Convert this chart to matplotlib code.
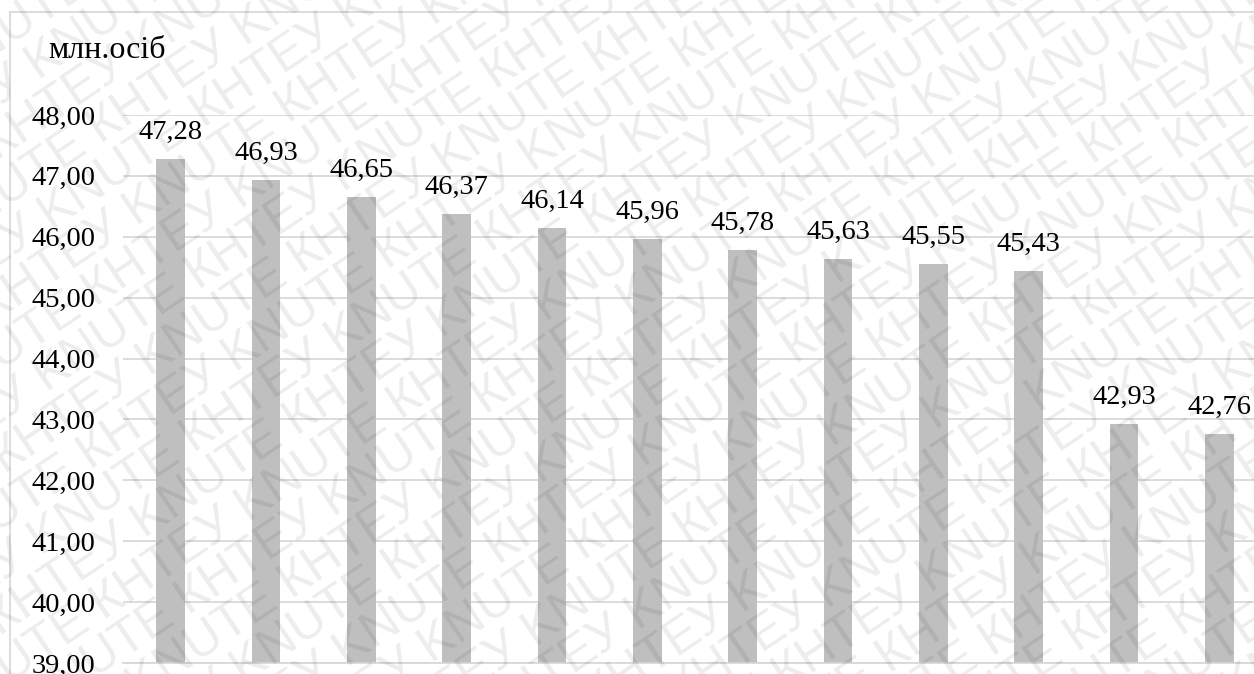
import numpy as np
import matplotlib
matplotlib.use("Agg")
import matplotlib.pyplot as plt
from matplotlib.lines import Line2D

# population, mln persons
values = [47.28, 46.93, 46.65, 46.37, 46.14, 45.96, 45.78, 45.63, 45.55, 45.43, 42.93, 42.76]
y_ticks = [39, 40, 41, 42, 43, 44, 45, 46, 47, 48]
unit_label = "млн.осіб"
mark_words = "KNUTE КНТЕУ "

W, H = 1254, 674
plt.rcParams["font.family"] = ["Liberation Serif", "DejaVu Serif"]

fig = plt.figure(figsize=(W / 100, H / 100), dpi=100)
fig.patch.set_facecolor("white")

# plot area (pixels): x 123..1267 (right part runs off the page), y 115..663
ax = fig.add_axes([123 / W, 11 / H, (1267 - 123) / W, 548 / H])
x = np.arange(len(values))
ax.bar(x, values, width=0.30, color="#bfbfbf", zorder=2)
ax.set_xlim(-0.5, len(values) - 0.5)
ax.set_ylim(39, 48)
ax.set_yticks(y_ticks)
ax.set_yticklabels([f"{t:.2f}".replace(".", ",") for t in y_ticks])
ax.set_xticks([])
ax.tick_params(axis="y", length=0, pad=20, labelsize=20.5, labelcolor="black")
ax.grid(axis="y", color="#d6d6d6", linewidth=1.2, zorder=0)
for side in ["top", "right", "left"]:
    ax.spines[side].set_visible(False)
ax.spines["bottom"].set_color("#d6d6d6")
ax.spines["bottom"].set_linewidth(1.2)
ax.patch.set_alpha(0)

for xi, v in zip(x, values):
    ax.annotate(f"{v:.2f}".replace(".", ","), (xi, v), xytext=(0, 14.5),
                textcoords="offset points", ha="center", va="baseline",
                fontsize=20.5, color="black")

fig.text(48 / W, (H - 58) / H, unit_label, fontsize=23, va="baseline", ha="left")

# chart frame (left and top edges visible)
fig.add_artist(Line2D([10 / W, 10 / W], [(H - 12) / H, -0.1], transform=fig.transFigure,
                      color="#d6d6d6", linewidth=1.2))
fig.add_artist(Line2D([10 / W, 1.1], [(H - 12) / H, (H - 12) / H], transform=fig.transFigure,
                      color="#d6d6d6", linewidth=1.2))

# diagonal watermark rows
ang = np.deg2rad(34)
d = np.array([np.cos(ang), np.sin(ang)])
n = np.array([-np.sin(ang), np.cos(ang)])
for k in range(-19, 15):
    start = n * (k * 44) - d * (1500 + (k % 4) * 95)
    fig.text(start[0] / W, start[1] / H, mark_words * 16, rotation=34,
             rotation_mode="anchor", ha="left", va="center",
             family=["Liberation Sans", "DejaVu Sans"], fontsize=36,
             color="black", alpha=0.075, zorder=10)

fig.savefig("out.png", dpi=100)
